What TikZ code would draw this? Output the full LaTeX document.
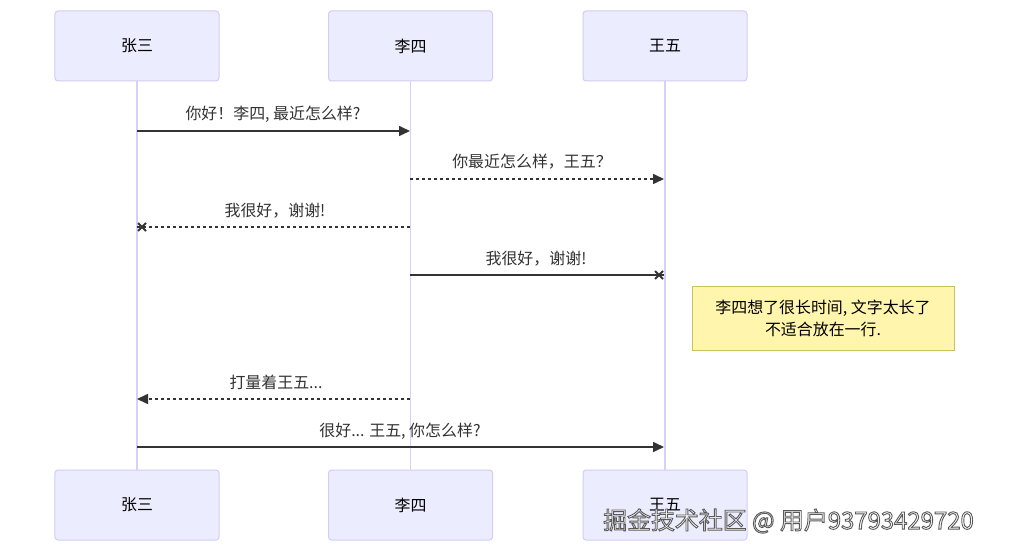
\documentclass[tikz,border=0pt]{standalone}
\usepackage{fontspec}
\setmainfont{Noto Sans CJK SC}
\usetikzlibrary{arrows.meta}
\definecolor{actfill}{HTML}{ECECFF}
\definecolor{actline}{HTML}{D4CCF4}
\definecolor{lifeln}{HTML}{D8D0F6}
\definecolor{msgcol}{HTML}{333333}
\definecolor{notefill}{HTML}{FFF5AD}
\definecolor{noteline}{HTML}{C9C25A}
\newcommand{\outlinedtext}[1]{\special{pdf:literal direct 2 Tr 0.9 w 0.35 0.35 0.35 RG}#1\special{pdf:literal direct 0 Tr}}
\tikzset{
  actor/.style={draw=actline, fill=actfill, rounded corners=3bp, line width=1bp,
    minimum width=164bp, minimum height=70bp, inner sep=0pt, font=\fontsize{16}{18}\selectfont, text=black},
  life/.style={draw=lifeln, line width=1.4bp},
  msg/.style={draw=msgcol, line width=1.6bp},
  dotmsg/.style={msg, dash pattern=on 3bp off 3bp},
  tip/.style={-{Triangle[length=11bp,width=10bp]}},
  lbl/.style={text=msgcol, font=\fontsize{16}{18}\selectfont, inner sep=0pt},
  crossmark/.style={draw=msgcol, line width=1.8bp},
  note/.style={draw=noteline, fill=notefill, line width=1bp, minimum width=262bp, minimum height=63bp,
    align=center, font=\fontsize{16}{22}\selectfont, text=black, inner sep=0pt},
  wm/.style={font=\fontsize{24}{26}\selectfont, inner sep=0pt, anchor=west}
}
\begin{document}
\begin{tikzpicture}[x=1bp,y=-1bp]
\fill[white] (0,0) rectangle (1009,553);
\useasboundingbox (0,0) rectangle (1009,553);
% actors
\node[actor] (a1) at (137,46) {张三};
\node[actor] (a2) at (410.5,46) {李四};
\node[actor] (a3) at (665,46) {王五};
\node[actor] (b1) at (137,505) {张三};
\node[actor] (b2) at (410.5,505) {李四};
\node[actor] (b3) at (665,505) {王五};
% lifelines
\draw[life] (a1.south) -- (b1.north);
\draw[life] (a2.south) -- (b2.north);
\draw[life] (a3.south) -- (b3.north);
% message points on lifelines
\coordinate (m1s) at (137,131); \coordinate (m1e) at (410,131);
\coordinate (m2s) at (410,179); \coordinate (m2e) at (664,179);
\coordinate (m3s) at (410,227); \coordinate (m3e) at (137,227);
\coordinate (m4s) at (410,275); \coordinate (m4e) at (664,275);
\coordinate (m5s) at (410,399); \coordinate (m5e) at (137,399);
\coordinate (m6s) at (137,447); \coordinate (m6e) at (664,447);
% messages
\draw[msg,tip] (m1s) -- (m1e);
\node[lbl] (l1) at (273,114) {你好！李四, 最近怎么样?};
\draw[dotmsg,tip] (m2s) -- (m2e);
\node[lbl] (l2) at (532,162) {你最近怎么样，王五？};
\draw[dotmsg] (m3s) -- (m3e);
\draw[crossmark] ([shift={(1,-4)}]m3e) -- ([shift={(9,4)}]m3e) ([shift={(1,4)}]m3e) -- ([shift={(9,-4)}]m3e);
\node[lbl] (l3) at (275,211) {我很好，谢谢!};
\draw[msg] (m4s) -- (m4e);
\draw[crossmark] ([shift={(-9,-4)}]m4e) -- ([shift={(-1,4)}]m4e) ([shift={(-9,4)}]m4e) -- ([shift={(-1,-4)}]m4e);
\node[lbl] (l4) at (536,259) {我很好，谢谢!};
\node[note] (n1) at (823,318.5) {李四想了很长时间, 文字太长了\\不适合放在一行.};
\draw[dotmsg,tip] (m5s) -- (m5e);
\node[lbl] (l5) at (276,382) {打量着王五...};
\draw[msg,tip] (m6s) -- (m6e);
\node[lbl] (l6) at (400,431) {很好... 王五, 你怎么样?};
% watermark
\node[wm, text=white] (wmt) at (603,521) {\outlinedtext{掘金技术社区 @ 用户93793429720}};
\end{tikzpicture}
\end{document}
